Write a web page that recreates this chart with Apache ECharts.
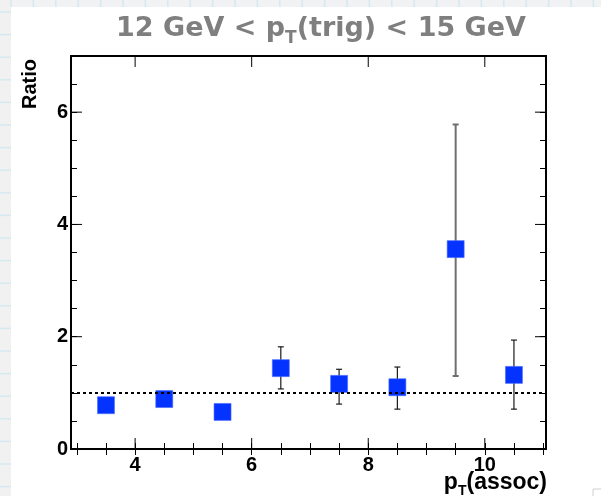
<!DOCTYPE html>
<html>
<head>
<meta charset="utf-8">
<script src="https://cdn.jsdelivr.net/npm/echarts@6/dist/echarts.min.js"></script>
<style>
  html, body { margin: 0; padding: 0; background: #ffffff; }
  #chart { width: 601px; height: 496px; }
</style>
</head>
<body>
<div id="chart"></div>
<script>
// Ratio vs associated-particle pT, 12 < pT(trig) < 15 GeV
const ptAssoc = [3.5, 4.5, 5.5, 6.5, 7.5, 8.5, 9.5, 10.5];
const ratio   = [0.78, 0.89, 0.66, 1.44, 1.16, 1.10, 3.56, 1.32];
const errLow  = [null, null, null, 1.07, 0.80, 0.71, 1.30, 0.71];
const errHigh = [null, null, null, 1.82, 1.42, 1.46, 5.78, 1.94];

const xMajorTicks = [4, 6, 8, 10];
const xMinorTicks = [3, 3.5, 4, 4.5, 5, 5.5, 6, 6.5, 7, 7.5, 8, 8.5, 9, 9.5, 10, 10.5, 11];
const yMajorTicks = [0, 2, 4, 6];
const yMinorTicks = [0, 0.5, 1, 1.5, 2, 2.5, 3, 3.5, 4, 4.5, 5, 5.5, 6, 6.5, 7];
const referenceLevel = 1;

const X_MIN = 2.9, X_MAX = 11.05, Y_MIN = 0, Y_MAX = 7;
const MINOR_LEN = 6, MAJOR_LEN = 11;
const labelFont = { fontFamily: 'Liberation Sans, Arial, sans-serif', fontWeight: 'bold', fontSize: 20, color: '#000' };

function xAxisDef(position, labels) {
  return {
    type: 'value', min: X_MIN, max: X_MAX, position: position,
    axisLine: { show: false }, splitLine: { show: false },
    axisTick: { show: true, inside: true, length: MINOR_LEN, customValues: xMinorTicks, lineStyle: { color: '#000', width: 1 } },
    axisLabel: labels ? Object.assign({ show: true, customValues: labels, margin: 6 }, labelFont) : { show: false }
  };
}
function yAxisDef(position, labels) {
  return {
    type: 'value', min: Y_MIN, max: Y_MAX, position: position,
    axisLine: { show: false }, splitLine: { show: false },
    axisTick: { show: true, inside: true, length: MINOR_LEN, customValues: yMinorTicks, lineStyle: { color: '#000', width: 1 } },
    axisLabel: labels ? Object.assign({ show: true, customValues: labels, margin: 3 }, labelFont) : { show: false }
  };
}

// decorative notebook-paper strips along the top and left edges
const paper = [];
paper.push({ type: 'rect', shape: { x: 0, y: 0, width: 601, height: 7 }, style: { fill: '#f0f2f3' }, z: 0, silent: true });
paper.push({ type: 'rect', shape: { x: 0, y: 0, width: 11, height: 496 }, style: { fill: '#f1f1f1' }, z: 0, silent: true });
for (let gx = 11; gx < 601; gx += 22.4) {
  paper.push({ type: 'line', shape: { x1: gx, y1: 0, x2: gx, y2: 7 }, style: { stroke: '#d5e9f0', lineWidth: 1.5 }, z: 1, silent: true });
}
for (let gy = 12; gy < 496; gy += 22.6) {
  paper.push({ type: 'line', shape: { x1: 0, y1: gy, x2: 11, y2: gy }, style: { stroke: '#d5e9f0', lineWidth: 1.5 }, z: 1, silent: true });
}
paper.push({ type: 'rect', shape: { x: 593, y: 489, width: 12, height: 12 }, style: { fill: 'none', stroke: '#cfcfcf', lineWidth: 1 }, z: 1, silent: true });

const errData = [];
ptAssoc.forEach((x, i) => {
  if (errLow[i] != null && errHigh[i] != null) errData.push([x, errLow[i], errHigh[i]]);
});

// long ticks at the labelled values, on all four sides of the frame
const majorTickData = xMajorTicks.map(v => [v, 0]).concat(yMajorTicks.map(v => [v, 1]));

const chart = echarts.init(document.getElementById('chart'), null, { renderer: 'canvas' });
chart.setOption({
  animation: false,
  backgroundColor: '#ffffff',
  grid: { left: 71, right: 55, top: 56, bottom: 47, show: true, borderColor: '#000', borderWidth: 2, backgroundColor: 'transparent', outerBoundsMode: 'none' },
  xAxis: [xAxisDef('bottom', xMajorTicks), xAxisDef('top', null)],
  yAxis: [yAxisDef('left', yMajorTicks), yAxisDef('right', null)],
  graphic: paper.concat([
    {
      type: 'text', x: 321, y: 29, z: 10,
      style: {
        text: '{a|12 GeV < p}{s|T}{a|(trig) < 15 GeV}',
        align: 'center', verticalAlign: 'middle',
        rich: {
          a: { fontFamily: 'DejaVu Sans', fontWeight: 'bold', fontSize: 27, fill: '#7f7f7f', lineHeight: 36, verticalAlign: 'middle' },
          s: { fontFamily: 'DejaVu Sans', fontWeight: 'bold', fontSize: 17, fill: '#7f7f7f', lineHeight: 26, verticalAlign: 'bottom' }
        }
      }
    },
    {
      type: 'text', x: 30, y: 84, rotation: Math.PI / 2, z: 10,
      style: { text: 'Ratio', align: 'center', verticalAlign: 'middle', fontFamily: 'Liberation Sans, Arial, sans-serif', fontWeight: 'bold', fontSize: 20, fill: '#000' }
    },
    {
      type: 'text', x: 547, y: 483, z: 10,
      style: {
        text: '{a|p}{s|T}{a|(assoc)}',
        align: 'right', verticalAlign: 'middle',
        rich: {
          a: { fontFamily: 'Liberation Sans, Arial, sans-serif', fontWeight: 'bold', fontSize: 23, fill: '#000', lineHeight: 30, verticalAlign: 'middle' },
          s: { fontFamily: 'Liberation Sans, Arial, sans-serif', fontWeight: 'bold', fontSize: 14, fill: '#000', lineHeight: 12, verticalAlign: 'bottom' }
        }
      }
    }
  ]),
  series: [
    {
      type: 'custom', xAxisIndex: 0, yAxisIndex: 0, z: 5, silent: true,
      data: majorTickData,
      clip: false,
      renderItem: function (params, api) {
        const v = api.value(0), isY = api.value(1) === 1;
        const st = { stroke: '#000', lineWidth: 1 };
        if (!isY) {
          const b = api.coord([v, Y_MIN]), t = api.coord([v, Y_MAX]);
          return { type: 'group', children: [
            { type: 'line', shape: { x1: b[0], y1: b[1], x2: b[0], y2: b[1] - MAJOR_LEN }, style: st },
            { type: 'line', shape: { x1: t[0], y1: t[1], x2: t[0], y2: t[1] + MAJOR_LEN }, style: st }
          ] };
        }
        const l = api.coord([X_MIN, v]), r = api.coord([X_MAX, v]);
        return { type: 'group', children: [
          { type: 'line', shape: { x1: l[0], y1: l[1], x2: l[0] + MAJOR_LEN, y2: l[1] }, style: st },
          { type: 'line', shape: { x1: r[0], y1: r[1], x2: r[0] - MAJOR_LEN, y2: r[1] }, style: st }
        ] };
      }
    },
    {
      type: 'line', xAxisIndex: 0, yAxisIndex: 0, data: [], silent: true, z: 2,
      markLine: {
        silent: true, symbol: 'none', label: { show: false },
        lineStyle: { type: [3, 3], color: '#000', width: 2 },
        data: [{ yAxis: referenceLevel }]
      }
    },
    {
      type: 'custom', xAxisIndex: 0, yAxisIndex: 0, z: 3, silent: true,
      data: errData,
      renderItem: function (params, api) {
        const x = api.value(0), lo = api.value(1), hi = api.value(2);
        const top = api.coord([x, hi]);
        const bot = api.coord([x, lo]);
        const wide = (hi - lo) > 2;
        const stroke = wide ? '#6f6f6f' : '#1a1a1a';
        const lw = wide ? 2 : 1.2;
        const cap = 3;
        return {
          type: 'group',
          children: [
            { type: 'line', shape: { x1: top[0], y1: top[1], x2: bot[0], y2: bot[1] }, style: { stroke: stroke, lineWidth: lw } },
            { type: 'line', shape: { x1: top[0] - cap, y1: top[1], x2: top[0] + cap, y2: top[1] }, style: { stroke: stroke, lineWidth: lw } },
            { type: 'line', shape: { x1: bot[0] - cap, y1: bot[1], x2: bot[0] + cap, y2: bot[1] }, style: { stroke: stroke, lineWidth: lw } }
          ]
        };
      }
    },
    {
      type: 'scatter', xAxisIndex: 0, yAxisIndex: 0, z: 4, silent: true,
      symbol: 'rect', symbolSize: 17,
      itemStyle: { color: '#0433ff', borderColor: '#4a6cff', borderWidth: 0.6, opacity: 1 },
      data: ptAssoc.map((x, i) => [x, ratio[i]])
    }
  ]
});
</script>
</body>
</html>
